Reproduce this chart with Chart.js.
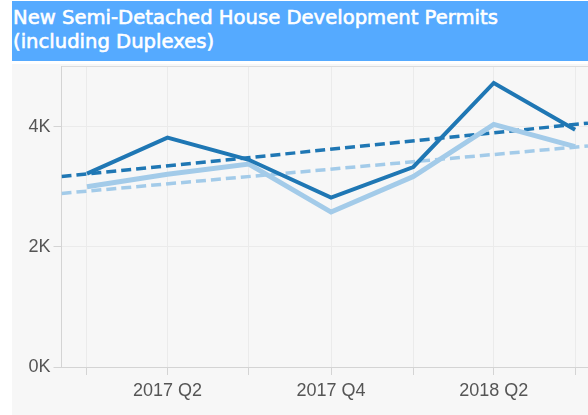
<!DOCTYPE html>
<html>
<head>
<meta charset="utf-8">
<script src="https://cdn.jsdelivr.net/npm/chart.js@4/dist/chart.umd.min.js"></script>
<style>
  html, body { margin: 0; padding: 0; background: #ffffff; width: 588px; height: 415px; overflow: hidden; }
  #title {
    position: absolute; left: 12px; top: 1px; width: 576px; height: 60px;
    background: #55aaff; color: #ffffff;
    font-family: "DejaVu Sans", Verdana, sans-serif; font-size: 19.6px; line-height: 24.3px;
    box-sizing: border-box; padding: 5px 0 0 1px;
    -webkit-text-stroke: 0.6px #ffffff;
    white-space: nowrap; overflow: hidden;
  }
  #wrap { position: absolute; left: 12px; top: 64px; width: 576px; height: 351px; background: #f7f7f7; }
  canvas { display: block; }
</style>
</head>
<body>
<div id="title">New Semi-Detached House Development Permits<br>(including Duplexes)</div>
<div id="wrap"><canvas id="c" width="576" height="351"></canvas></div>
<script>
// ---- data ----
const quarterDates = ['2017-01-01','2017-04-01','2017-07-01','2017-10-01','2018-01-01','2018-04-01','2018-07-01'];
const quarterLabels = ['2017 Q1','2017 Q2','2017 Q3','2017 Q4','2018 Q1','2018 Q2','2018 Q3'];
const shownLabels = ['2017 Q2','2017 Q4','2018 Q2'];
const seriesDark = [3220, 3820, 3450, 2820, 3330, 4730, 3950];
const seriesLight = [3000, 3210, 3380, 2580, 3170, 4040, 3670];
const trendDark = [3170, 4060];   // trend value at left and right edge of plot
const trendLight = [2890, 3680];
const yTickValues = [0, 2000, 4000];

// ---- helpers ----
const origin = Date.UTC(2017, 0, 1);
function dayOf(s) {
  const [y, m, d] = s.split('-').map(Number);
  return (Date.UTC(y, m - 1, d) - origin) / 86400000;
}
const xs = quarterDates.map(dayOf);
const X_MIN = -28.5, X_MAX = 560.4;

const darkCol = '#1f77b4';
const lightCol = '#a3cbe9';

const data = {
  datasets: [
    { label: 'Dark', data: xs.map((x, i) => ({ x, y: seriesDark[i] })), borderColor: darkCol, borderWidth: 4, order: 1 },
    { label: 'Light', data: xs.map((x, i) => ({ x, y: seriesLight[i] })), borderColor: lightCol, borderWidth: 5, order: 2 },
    { label: 'Dark trend', data: [{ x: X_MIN, y: trendDark[0] }, { x: X_MAX, y: trendDark[1] }], borderColor: darkCol, borderWidth: 3.5, borderDash: [10, 5], order: 3 },
    { label: 'Light trend', data: [{ x: X_MIN, y: trendLight[0] }, { x: X_MAX, y: trendLight[1] }], borderColor: lightCol, borderWidth: 3.5, borderDash: [10, 5], order: 4 }
  ]
};

new Chart(document.getElementById('c'), {
  type: 'line',
  data,
  options: {
    responsive: false,
    animation: false,
    devicePixelRatio: 1,
    layout: { padding: { top: 2.7, right: 0, left: 0, bottom: 0 } },
    elements: { point: { radius: 0 }, line: { tension: 0, fill: false } },
    plugins: { legend: { display: false }, tooltip: { enabled: false }, title: { display: false } },
    scales: {
      x: {
        type: 'linear', min: X_MIN, max: X_MAX,
        afterBuildTicks: s => { s.ticks = xs.map(v => ({ value: v })); },
        afterFit: s => { s.height = 48; s.paddingRight = 0; s.paddingLeft = 0; },
        ticks: {
          autoSkip: false, maxRotation: 0, padding: 5, color: '#555555',
          font: { family: '"Liberation Sans", Arial, sans-serif', size: 18 },
          callback: (v, i) => shownLabels.includes(quarterLabels[i]) ? quarterLabels[i] : ''
        },
        grid: { color: '#ebebeb', tickColor: '#d4d4d4', tickLength: 8, lineWidth: 1 },
        border: { color: '#d4d4d4' }
      },
      y: {
        min: 0, max: 5000,
        afterBuildTicks: s => { s.ticks = yTickValues.concat([5000]).map(v => ({ value: v })); },
        afterFit: s => { s.width = 49.5; s.paddingTop = 0; s.paddingBottom = 0; },
        ticks: {
          padding: 3, color: '#555555',
          font: { family: '"Liberation Sans", Arial, sans-serif', size: 18 },
          callback: v => yTickValues.includes(v) ? (v / 1000) + 'K' : ''
        },
        grid: {
          color: c => c.tick && c.tick.value === 5000 ? '#dcdcdc' : '#ebebeb',
          tickColor: c => c.tick && c.tick.value === 5000 ? 'rgba(0,0,0,0)' : '#d4d4d4',
          tickLength: 8
        },
        border: { color: '#d4d4d4' }
      }
    }
  }
});
</script>
</body>
</html>
